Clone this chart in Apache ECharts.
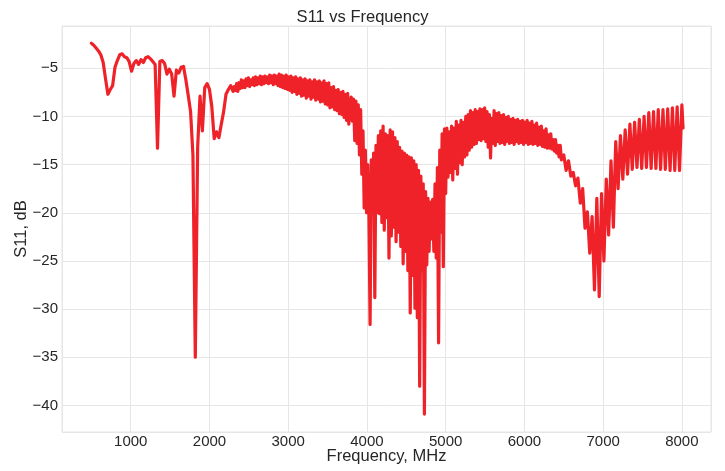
<!DOCTYPE html>
<html>
<head>
<meta charset="utf-8">
<script src="https://cdn.jsdelivr.net/npm/echarts@6/dist/echarts.min.js"></script>
<style>
html,body{margin:0;padding:0;background:#fff;}
#chart{width:725px;height:471px;}
</style>
</head>
<body>
<div id="chart"></div>
<script>
// Frequency samples (MHz)
var freq = [
  500, 530, 560, 590, 620, 650, 680, 710, 740, 770,
  800, 830, 860, 890, 920, 950, 980, 1010, 1040, 1070,
  1100, 1130, 1160, 1190, 1220, 1250, 1280, 1310, 1340, 1370,
  1400, 1430, 1460, 1490, 1520, 1550, 1580, 1610, 1640, 1670,
  1700, 1730, 1760, 1790, 1820, 1850, 1880, 1910, 1940, 1970,
  2000, 2030, 2060, 2090, 2120, 2150, 2180, 2210, 2240, 2270,
  2300, 2315, 2330, 2345, 2360, 2375, 2390, 2405, 2420, 2435,
  2450, 2465, 2480, 2495, 2510, 2525, 2540, 2555, 2570, 2585,
  2600, 2615, 2630, 2645, 2660, 2675, 2690, 2705, 2720, 2735,
  2750, 2765, 2780, 2795, 2810, 2825, 2840, 2855, 2870, 2885,
  2900, 2915, 2930, 2945, 2960, 2975, 2990, 3005, 3020, 3035,
  3050, 3065, 3080, 3095, 3110, 3125, 3140, 3155, 3170, 3185,
  3200, 3215, 3230, 3245, 3260, 3275, 3290, 3305, 3320, 3335,
  3350, 3365, 3380, 3395, 3410, 3425, 3440, 3455, 3470, 3485,
  3500, 3515, 3530, 3545, 3560, 3575, 3590, 3605, 3620, 3635,
  3650, 3665, 3680, 3695, 3710, 3725, 3740, 3755, 3770, 3785,
  3800, 3815, 3830, 3845, 3860, 3875, 3890, 3905, 3920, 3935,
  3950, 3965, 3980, 3995, 4010, 4025, 4040, 4055, 4070, 4085,
  4100, 4115, 4130, 4145, 4160, 4175, 4190, 4205, 4220, 4235,
  4250, 4265, 4280, 4295, 4310, 4325, 4340, 4355, 4370, 4385,
  4400, 4415, 4430, 4445, 4460, 4475, 4490, 4505, 4520, 4535,
  4550, 4565, 4580, 4595, 4610, 4625, 4640, 4655, 4670, 4685,
  4700, 4715, 4730, 4745, 4760, 4775, 4790, 4805, 4820, 4835,
  4850, 4865, 4880, 4895, 4910, 4925, 4940, 4955, 4970, 4985,
  5000, 5015,
  5030, 5045, 5060, 5075, 5090, 5105, 5120, 5135, 5150, 5165,
  5180, 5195, 5210, 5225, 5240, 5255, 5270, 5285, 5300, 5315,
  5330, 5345, 5360, 5375, 5390, 5405, 5420, 5435, 5450, 5465,
  5480, 5495, 5510, 5525, 5540, 5555, 5570, 5585, 5600, 5615,
  5630, 5645, 5660, 5675, 5690, 5705, 5720, 5735, 5750, 5765,
  5780, 5795, 5810, 5825, 5840, 5855, 5870, 5885, 5900, 5915,
  5930, 5945, 5960, 5975, 5990, 6005, 6020, 6035, 6050, 6065,
  6080, 6095, 6110, 6125, 6140, 6155, 6170, 6185, 6200, 6215,
  6230, 6245, 6260, 6275, 6290, 6305, 6320, 6335, 6350, 6365,
  6380, 6395, 6410, 6425, 6440, 6455, 6470,
  6500, 6530, 6560, 6590, 6620, 6650, 6680, 6710, 6740, 6770,
  6800, 6830, 6860, 6890, 6920, 6950, 6980, 7010, 7040, 7070,
  7100, 7130, 7160, 7190, 7220, 7250, 7280, 7310, 7340, 7370,
  7400, 7430, 7460, 7490, 7520, 7550, 7580, 7610, 7640, 7670,
  7700, 7730, 7760, 7790, 7820, 7850, 7880, 7910, 7940, 7970,
  8000, 8015
];
// S11 values (dB)
var s11 = [
  -2.4, -2.6, -2.9, -3.2, -3.6, -4.4, -6.1, -7.7, -7.2, -6.8,
  -4.9, -4.2, -3.6, -3.5, -3.8, -3.9, -4.3, -5.3, -4.5, -4.2,
  -4.6, -4.1, -4.4, -3.9, -3.8, -4.0, -4.3, -4.6, -13.3, -4.3,
  -4.2, -4.5, -5.6, -5.1, -5.6, -7.9, -5.2, -5.5, -4.9, -4.8,
  -6.2, -7.8, -9.5, -14.0, -35.0, -13.2, -7.9, -11.5, -7.0, -6.6,
  -7.2, -9.0, -12.3, -11.6, -12.2, -10.8, -9.5, -7.7, -7.2, -6.8,
  -7.4, -6.9, -7.3, -6.6, -7.4, -6.5, -7.1, -6.2, -7.0, -6.3,
  -7.0, -6.1, -6.8, -6.0, -6.9, -6.2, -6.7, -6.0, -6.8, -5.9,
  -6.7, -6.0, -6.6, -5.8, -6.7, -5.9, -6.6, -5.8, -6.5, -5.9,
  -6.6, -5.7, -6.5, -5.8, -6.7, -5.7, -6.6, -5.8, -6.8, -5.6,
  -6.9, -5.7, -7.0, -5.8, -7.1, -5.7, -7.2, -5.9, -7.3, -5.8,
  -7.5, -6.0, -7.4, -5.9, -7.7, -6.1, -7.6, -6.0, -7.9, -6.2,
  -7.8, -6.1, -8.1, -6.3, -7.9, -6.2, -8.2, -6.4, -8.0, -6.2,
  -8.3, -6.4, -8.2, -6.3, -8.5, -6.5, -8.4, -6.3, -8.7, -6.6,
  -8.8, -6.5, -9.1, -7.0, -9.0, -6.9, -9.3, -7.3, -9.4, -7.2,
  -9.7, -7.5, -9.8, -7.4, -10.1, -7.7, -10.4, -7.6, -10.8, -9.0,
  -8.0, -10.5, -8.2, -12.5, -8.4, -12.8, -8.8, -14.0, -9.3, -16.0,
  -11.5, -19.5, -13.5, -20.0, -15.0, -19.8, -31.6, -14.5, -20.0, -13.8,
  -28.8, -13.0, -20.0, -12.0, -20.1, -11.5, -21.0, -11.0, -21.8, -11.8,
  -20.5, -12.0, -24.7, -11.4, -22.4, -11.6, -21.5, -12.2, -23.0, -12.6,
  -22.0, -13.2, -23.5, -13.6, -25.3, -13.8, -24.0, -14.0, -26.0, -14.2,
  -30.4, -14.3, -26.5, -14.6, -29.9, -15.0, -30.9, -15.6, -38.0, -16.2,
  -26.0, -17.0, -40.9, -17.8, -25.4, -18.5, -24.0, -18.9, -22.7, -18.6,
  -24.0, -17.0, -24.7, -15.3, -33.5, -13.5, -22.0, -11.8, -25.6, -11.3,
  -18.0, -11.2,
  -16.3, -11.6, -15.8, -11.0, -16.6, -11.2, -15.4, -10.5, -16.0, -10.9,
  -14.8, -10.4, -15.0, -10.6, -14.2, -10.0, -14.0, -9.8, -13.5, -9.4,
  -13.2, -9.6, -12.9, -9.3, -12.8, -9.5, -12.4, -9.2, -12.5, -9.3,
  -12.3, -9.1, -12.6, -9.5, -13.2, -9.8, -14.3, -10.2, -12.8, -9.4,
  -13.0, -9.7, -12.6, -9.6, -12.8, -9.9, -12.7, -9.8, -12.9, -10.1,
  -12.6, -10.0, -12.8, -10.3, -12.7, -10.2, -12.9, -10.4, -12.6, -10.3,
  -12.8, -10.5, -12.7, -10.4, -12.9, -10.6, -12.7, -10.4, -12.9, -10.7,
  -12.8, -10.5, -12.9, -10.9, -12.8, -10.7, -13.0, -11.1, -12.9, -11.0,
  -13.1, -11.5, -13.2, -11.3, -13.3, -11.9, -13.3, -11.8, -13.4, -12.4,
  -13.6, -12.4, -13.8, -13.0, -14.2, -13.0, -14.5,
  -14.0, -15.6, -14.6, -16.2, -15.8, -17.2, -16.4, -19.0, -17.5, -21.6,
  -19.9, -24.2, -20.4, -28.0, -18.5, -28.7, -18.0, -25.0, -16.5, -22.3,
  -14.6, -21.5, -12.6, -17.5, -12.0, -16.5, -11.4, -16.0, -10.8, -15.5,
  -10.6, -15.3, -10.3, -15.4, -10.0, -15.3, -9.6, -15.4, -9.5, -15.4,
  -9.3, -15.5, -9.3, -15.5, -9.2, -15.6, -9.1, -15.6, -9.0, -15.6,
  -8.8, -11.2
];
var xTicks = [1000, 2000, 3000, 4000, 5000, 6000, 7000, 8000];
var yTicks = [-40, -35, -30, -25, -20, -15, -10, -5];

var n = Math.min(freq.length, s11.length);
var pts = [];
for (var i = 0; i < n; i++) { pts.push([freq[i], s11[i]]); }
var font = '"Liberation Sans", Arial, sans-serif';
var textColor = '#262626';
var gridColor = '#e6e6e6';

var chart = echarts.init(document.getElementById('chart'), null, {renderer: 'canvas'});
chart.setOption({
  animation: false,
  backgroundColor: '#ffffff',
  title: {
    text: 'S11 vs Frequency',
    left: 'center',
    top: 4,
    textStyle: {fontFamily: font, fontSize: 16.5, fontWeight: 'normal', color: textColor}
  },
  grid: {
    left: 62, right: 14, top: 26, bottom: 39,
    outerBoundsMode: 'none',
    containLabel: false,
    show: true, borderColor: gridColor, borderWidth: 1
  },
  xAxis: {
    type: 'value',
    min: 127, max: 8370,
    splitNumber: 8,
    name: 'Frequency, MHz',
    nameLocation: 'middle',
    nameGap: 16,
    nameMoveOverlap: false,
    nameTextStyle: {fontFamily: font, fontSize: 16.5, color: textColor},
    axisLine: {show: false},
    axisTick: {show: false},
    axisLabel: {
      fontFamily: font, fontSize: 15, color: textColor, margin: 2,
      showMinLabel: false, showMaxLabel: false,
      formatter: function (v) { return xTicks.indexOf(v) >= 0 ? String(v) : ''; }
    },
    splitLine: {show: true, lineStyle: {color: gridColor, width: 1}}
  },
  yAxis: {
    type: 'value',
    min: -42.76, max: -0.61,
    splitNumber: 8,
    name: 'S11, dB',
    nameLocation: 'middle',
    nameGap: 32,
    nameMoveOverlap: false,
    nameTextStyle: {fontFamily: font, fontSize: 16.5, color: textColor},
    axisLine: {show: false},
    axisTick: {show: false},
    axisLabel: {
      fontFamily: font, fontSize: 15, color: textColor, margin: 4,
      showMinLabel: false, showMaxLabel: false,
      formatter: function (v) { return yTicks.indexOf(v) >= 0 ? String(v).replace('-', '\u2212') : ''; }
    },
    splitLine: {show: true, lineStyle: {color: gridColor, width: 1}}
  },
  series: [{
    type: 'line',
    data: pts,
    showSymbol: false,
    symbol: 'none',
    lineStyle: {color: '#ef2229', width: 3.2, join: 'round', cap: 'round'},
    z: 3
  }]
});
</script>
</body>
</html>
